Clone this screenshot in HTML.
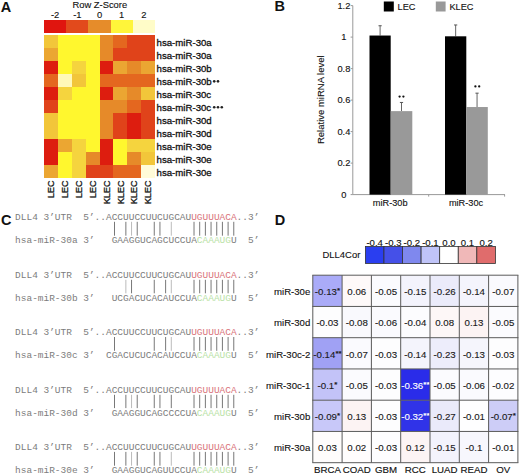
<!DOCTYPE html>
<html><head><meta charset="utf-8"><title>Figure</title>
<style>
html,body{margin:0;padding:0;background:#fff;}
body{width:520px;height:474px;overflow:hidden;}
svg{display:block;font-family:"Liberation Sans", sans-serif;}
svg{fill:#111;}
</style></head><body>
<svg width="520" height="474" viewBox="0 0 520 474">
<rect width="520" height="474" fill="#fff"/>
<text x="0.8" y="11.5" font-size="14.5" font-weight="bold">A</text>
<text x="99.8" y="8.2" font-size="9.4" text-anchor="middle" stroke="#111" stroke-width="0.12">Row Z-Score</text>
<rect x="44.00" y="20" width="22.20" height="12.5" fill="#e0150f" shape-rendering="crispEdges"/>
<text x="55.10" y="18" font-size="9.4" text-anchor="middle" stroke="#111" stroke-width="0.12">-2</text>
<rect x="66.20" y="20" width="22.20" height="12.5" fill="#e24a1c" shape-rendering="crispEdges"/>
<text x="77.30" y="18" font-size="9.4" text-anchor="middle" stroke="#111" stroke-width="0.12">-1</text>
<rect x="88.40" y="20" width="22.20" height="12.5" fill="#e68c2a" shape-rendering="crispEdges"/>
<text x="99.50" y="18" font-size="9.4" text-anchor="middle" stroke="#111" stroke-width="0.12">0</text>
<rect x="110.60" y="20" width="22.20" height="12.5" fill="#fff53a" shape-rendering="crispEdges"/>
<text x="121.70" y="18" font-size="9.4" text-anchor="middle" stroke="#111" stroke-width="0.12">1</text>
<rect x="132.80" y="20" width="22.20" height="12.5" fill="#fffcc8" shape-rendering="crispEdges"/>
<text x="143.90" y="18" font-size="9.4" text-anchor="middle" stroke="#111" stroke-width="0.12">2</text>
<rect x="44.00" y="35.40" width="13.88" height="12.96" fill="#f2c63a" shape-rendering="crispEdges"/>
<rect x="57.88" y="35.40" width="13.88" height="12.96" fill="#fff72e" shape-rendering="crispEdges"/>
<rect x="71.75" y="35.40" width="13.88" height="12.96" fill="#fff72e" shape-rendering="crispEdges"/>
<rect x="85.62" y="35.40" width="13.88" height="12.96" fill="#fff72e" shape-rendering="crispEdges"/>
<rect x="99.50" y="35.40" width="13.88" height="12.96" fill="#e68a29" shape-rendering="crispEdges"/>
<rect x="113.38" y="35.40" width="13.88" height="12.96" fill="#e4671f" shape-rendering="crispEdges"/>
<rect x="127.25" y="35.40" width="13.88" height="12.96" fill="#e0431a" shape-rendering="crispEdges"/>
<rect x="141.12" y="35.40" width="13.88" height="12.96" fill="#e0431a" shape-rendering="crispEdges"/>
<rect x="44.00" y="48.36" width="13.88" height="12.96" fill="#eba632" shape-rendering="crispEdges"/>
<rect x="57.88" y="48.36" width="13.88" height="12.96" fill="#fff72e" shape-rendering="crispEdges"/>
<rect x="71.75" y="48.36" width="13.88" height="12.96" fill="#fff72e" shape-rendering="crispEdges"/>
<rect x="85.62" y="48.36" width="13.88" height="12.96" fill="#fff72e" shape-rendering="crispEdges"/>
<rect x="99.50" y="48.36" width="13.88" height="12.96" fill="#e68a29" shape-rendering="crispEdges"/>
<rect x="113.38" y="48.36" width="13.88" height="12.96" fill="#e0431a" shape-rendering="crispEdges"/>
<rect x="127.25" y="48.36" width="13.88" height="12.96" fill="#e0431a" shape-rendering="crispEdges"/>
<rect x="141.12" y="48.36" width="13.88" height="12.96" fill="#e0431a" shape-rendering="crispEdges"/>
<rect x="44.00" y="61.33" width="13.88" height="12.96" fill="#dd1d0f" shape-rendering="crispEdges"/>
<rect x="57.88" y="61.33" width="13.88" height="12.96" fill="#fff72e" shape-rendering="crispEdges"/>
<rect x="71.75" y="61.33" width="13.88" height="12.96" fill="#f5d43e" shape-rendering="crispEdges"/>
<rect x="85.62" y="61.33" width="13.88" height="12.96" fill="#fff72e" shape-rendering="crispEdges"/>
<rect x="99.50" y="61.33" width="13.88" height="12.96" fill="#dd1d0f" shape-rendering="crispEdges"/>
<rect x="113.38" y="61.33" width="13.88" height="12.96" fill="#eba632" shape-rendering="crispEdges"/>
<rect x="127.25" y="61.33" width="13.88" height="12.96" fill="#e68a29" shape-rendering="crispEdges"/>
<rect x="141.12" y="61.33" width="13.88" height="12.96" fill="#eba632" shape-rendering="crispEdges"/>
<rect x="44.00" y="74.29" width="13.88" height="12.96" fill="#e4671f" shape-rendering="crispEdges"/>
<rect x="57.88" y="74.29" width="13.88" height="12.96" fill="#fff9b8" shape-rendering="crispEdges"/>
<rect x="71.75" y="74.29" width="13.88" height="12.96" fill="#f2c63a" shape-rendering="crispEdges"/>
<rect x="85.62" y="74.29" width="13.88" height="12.96" fill="#fff72e" shape-rendering="crispEdges"/>
<rect x="99.50" y="74.29" width="13.88" height="12.96" fill="#e4671f" shape-rendering="crispEdges"/>
<rect x="113.38" y="74.29" width="13.88" height="12.96" fill="#e4671f" shape-rendering="crispEdges"/>
<rect x="127.25" y="74.29" width="13.88" height="12.96" fill="#e4671f" shape-rendering="crispEdges"/>
<rect x="141.12" y="74.29" width="13.88" height="12.96" fill="#e4671f" shape-rendering="crispEdges"/>
<rect x="44.00" y="87.25" width="13.88" height="12.96" fill="#dd1d0f" shape-rendering="crispEdges"/>
<rect x="57.88" y="87.25" width="13.88" height="12.96" fill="#f5d43e" shape-rendering="crispEdges"/>
<rect x="71.75" y="87.25" width="13.88" height="12.96" fill="#fff72e" shape-rendering="crispEdges"/>
<rect x="85.62" y="87.25" width="13.88" height="12.96" fill="#fff72e" shape-rendering="crispEdges"/>
<rect x="99.50" y="87.25" width="13.88" height="12.96" fill="#dd1d0f" shape-rendering="crispEdges"/>
<rect x="113.38" y="87.25" width="13.88" height="12.96" fill="#eba632" shape-rendering="crispEdges"/>
<rect x="127.25" y="87.25" width="13.88" height="12.96" fill="#e68a29" shape-rendering="crispEdges"/>
<rect x="141.12" y="87.25" width="13.88" height="12.96" fill="#f2c63a" shape-rendering="crispEdges"/>
<rect x="44.00" y="100.22" width="13.88" height="12.96" fill="#e0431a" shape-rendering="crispEdges"/>
<rect x="57.88" y="100.22" width="13.88" height="12.96" fill="#fff72e" shape-rendering="crispEdges"/>
<rect x="71.75" y="100.22" width="13.88" height="12.96" fill="#fff72e" shape-rendering="crispEdges"/>
<rect x="85.62" y="100.22" width="13.88" height="12.96" fill="#fff72e" shape-rendering="crispEdges"/>
<rect x="99.50" y="100.22" width="13.88" height="12.96" fill="#e68a29" shape-rendering="crispEdges"/>
<rect x="113.38" y="100.22" width="13.88" height="12.96" fill="#e68a29" shape-rendering="crispEdges"/>
<rect x="127.25" y="100.22" width="13.88" height="12.96" fill="#e4671f" shape-rendering="crispEdges"/>
<rect x="141.12" y="100.22" width="13.88" height="12.96" fill="#e0431a" shape-rendering="crispEdges"/>
<rect x="44.00" y="113.18" width="13.88" height="12.96" fill="#f2c63a" shape-rendering="crispEdges"/>
<rect x="57.88" y="113.18" width="13.88" height="12.96" fill="#fff72e" shape-rendering="crispEdges"/>
<rect x="71.75" y="113.18" width="13.88" height="12.96" fill="#fff72e" shape-rendering="crispEdges"/>
<rect x="85.62" y="113.18" width="13.88" height="12.96" fill="#fff72e" shape-rendering="crispEdges"/>
<rect x="99.50" y="113.18" width="13.88" height="12.96" fill="#e68a29" shape-rendering="crispEdges"/>
<rect x="113.38" y="113.18" width="13.88" height="12.96" fill="#e0431a" shape-rendering="crispEdges"/>
<rect x="127.25" y="113.18" width="13.88" height="12.96" fill="#dd1d0f" shape-rendering="crispEdges"/>
<rect x="141.12" y="113.18" width="13.88" height="12.96" fill="#e0431a" shape-rendering="crispEdges"/>
<rect x="44.00" y="126.15" width="13.88" height="12.96" fill="#f2c63a" shape-rendering="crispEdges"/>
<rect x="57.88" y="126.15" width="13.88" height="12.96" fill="#fff72e" shape-rendering="crispEdges"/>
<rect x="71.75" y="126.15" width="13.88" height="12.96" fill="#fff72e" shape-rendering="crispEdges"/>
<rect x="85.62" y="126.15" width="13.88" height="12.96" fill="#fff72e" shape-rendering="crispEdges"/>
<rect x="99.50" y="126.15" width="13.88" height="12.96" fill="#e68a29" shape-rendering="crispEdges"/>
<rect x="113.38" y="126.15" width="13.88" height="12.96" fill="#e0431a" shape-rendering="crispEdges"/>
<rect x="127.25" y="126.15" width="13.88" height="12.96" fill="#dd1d0f" shape-rendering="crispEdges"/>
<rect x="141.12" y="126.15" width="13.88" height="12.96" fill="#e0431a" shape-rendering="crispEdges"/>
<rect x="44.00" y="139.11" width="13.88" height="12.96" fill="#dd1d0f" shape-rendering="crispEdges"/>
<rect x="57.88" y="139.11" width="13.88" height="12.96" fill="#eba632" shape-rendering="crispEdges"/>
<rect x="71.75" y="139.11" width="13.88" height="12.96" fill="#f5d43e" shape-rendering="crispEdges"/>
<rect x="85.62" y="139.11" width="13.88" height="12.96" fill="#fff72e" shape-rendering="crispEdges"/>
<rect x="99.50" y="139.11" width="13.88" height="12.96" fill="#dd1d0f" shape-rendering="crispEdges"/>
<rect x="113.38" y="139.11" width="13.88" height="12.96" fill="#fff72e" shape-rendering="crispEdges"/>
<rect x="127.25" y="139.11" width="13.88" height="12.96" fill="#f5d43e" shape-rendering="crispEdges"/>
<rect x="141.12" y="139.11" width="13.88" height="12.96" fill="#f5d43e" shape-rendering="crispEdges"/>
<rect x="44.00" y="152.07" width="13.88" height="12.96" fill="#dd1d0f" shape-rendering="crispEdges"/>
<rect x="57.88" y="152.07" width="13.88" height="12.96" fill="#fff72e" shape-rendering="crispEdges"/>
<rect x="71.75" y="152.07" width="13.88" height="12.96" fill="#f5d43e" shape-rendering="crispEdges"/>
<rect x="85.62" y="152.07" width="13.88" height="12.96" fill="#e68a29" shape-rendering="crispEdges"/>
<rect x="99.50" y="152.07" width="13.88" height="12.96" fill="#dd1d0f" shape-rendering="crispEdges"/>
<rect x="113.38" y="152.07" width="13.88" height="12.96" fill="#fff72e" shape-rendering="crispEdges"/>
<rect x="127.25" y="152.07" width="13.88" height="12.96" fill="#e68a29" shape-rendering="crispEdges"/>
<rect x="141.12" y="152.07" width="13.88" height="12.96" fill="#f2c63a" shape-rendering="crispEdges"/>
<rect x="44.00" y="165.04" width="13.88" height="12.96" fill="#eba632" shape-rendering="crispEdges"/>
<rect x="57.88" y="165.04" width="13.88" height="12.96" fill="#fff72e" shape-rendering="crispEdges"/>
<rect x="71.75" y="165.04" width="13.88" height="12.96" fill="#f5d43e" shape-rendering="crispEdges"/>
<rect x="85.62" y="165.04" width="13.88" height="12.96" fill="#e0431a" shape-rendering="crispEdges"/>
<rect x="99.50" y="165.04" width="13.88" height="12.96" fill="#e0431a" shape-rendering="crispEdges"/>
<rect x="113.38" y="165.04" width="13.88" height="12.96" fill="#e4671f" shape-rendering="crispEdges"/>
<rect x="127.25" y="165.04" width="13.88" height="12.96" fill="#e4671f" shape-rendering="crispEdges"/>
<rect x="141.12" y="165.04" width="13.88" height="12.96" fill="#fffbd8" shape-rendering="crispEdges"/>
<text stroke="#111" stroke-width="0.3" x="156.6" y="45.88" font-size="9.65">hsa-miR-30a</text>
<text stroke="#111" stroke-width="0.3" x="156.6" y="58.85" font-size="9.65">hsa-miR-30a</text>
<text stroke="#111" stroke-width="0.3" x="156.6" y="71.81" font-size="9.65">hsa-miR-30b</text>
<text stroke="#111" stroke-width="0.3" x="156.6" y="84.77" font-size="9.65">hsa-miR-30b</text>
<circle cx="214.20" cy="81.37" r="1.3" fill="#222"/>
<circle cx="218.00" cy="81.37" r="1.3" fill="#222"/>
<text stroke="#111" stroke-width="0.3" x="156.6" y="97.74" font-size="9.65">hsa-miR-30c</text>
<text stroke="#111" stroke-width="0.3" x="156.6" y="110.70" font-size="9.65">hsa-miR-30c</text>
<circle cx="214.20" cy="107.30" r="1.3" fill="#222"/>
<circle cx="218.00" cy="107.30" r="1.3" fill="#222"/>
<circle cx="221.80" cy="107.30" r="1.3" fill="#222"/>
<text stroke="#111" stroke-width="0.3" x="156.6" y="123.66" font-size="9.65">hsa-miR-30d</text>
<text stroke="#111" stroke-width="0.3" x="156.6" y="136.63" font-size="9.65">hsa-miR-30d</text>
<text stroke="#111" stroke-width="0.3" x="156.6" y="149.59" font-size="9.65">hsa-miR-30e</text>
<text stroke="#111" stroke-width="0.3" x="156.6" y="162.55" font-size="9.65">hsa-miR-30e</text>
<text stroke="#111" stroke-width="0.3" x="156.6" y="175.52" font-size="9.65">hsa-miR-30e</text>
<text stroke="#111" stroke-width="0.3" transform="translate(54.24,180.5) rotate(-90)" font-size="9" text-anchor="end">LEC</text>
<text stroke="#111" stroke-width="0.3" transform="translate(68.11,180.5) rotate(-90)" font-size="9" text-anchor="end">LEC</text>
<text stroke="#111" stroke-width="0.3" transform="translate(81.99,180.5) rotate(-90)" font-size="9" text-anchor="end">LEC</text>
<text stroke="#111" stroke-width="0.3" transform="translate(95.86,180.5) rotate(-90)" font-size="9" text-anchor="end">LEC</text>
<text stroke="#111" stroke-width="0.3" transform="translate(109.74,180.5) rotate(-90)" font-size="9" text-anchor="end">KLEC</text>
<text stroke="#111" stroke-width="0.3" transform="translate(123.61,180.5) rotate(-90)" font-size="9" text-anchor="end">KLEC</text>
<text stroke="#111" stroke-width="0.3" transform="translate(137.49,180.5) rotate(-90)" font-size="9" text-anchor="end">KLEC</text>
<text stroke="#111" stroke-width="0.3" transform="translate(151.36,180.5) rotate(-90)" font-size="9" text-anchor="end">KLEC</text>
<text x="274.6" y="11.2" font-size="14.5" font-weight="bold">B</text>
<line x1="352.8" y1="5.60" x2="352.8" y2="194.6" stroke="#999" stroke-width="1"/>
<line x1="352.8" y1="194.6" x2="505" y2="194.6" stroke="#999" stroke-width="1"/>
<line x1="350.6" y1="194.60" x2="352.8" y2="194.60" stroke="#999" stroke-width="1"/>
<text stroke="#111" stroke-width="0.12" x="343.9" y="197.90" font-size="9.3" text-anchor="middle">0</text>
<line x1="350.6" y1="163.10" x2="352.8" y2="163.10" stroke="#999" stroke-width="1"/>
<text stroke="#111" stroke-width="0.12" x="343.9" y="166.40" font-size="9.3" text-anchor="middle">0.2</text>
<line x1="350.6" y1="131.60" x2="352.8" y2="131.60" stroke="#999" stroke-width="1"/>
<text stroke="#111" stroke-width="0.12" x="343.9" y="134.90" font-size="9.3" text-anchor="middle">0.4</text>
<line x1="350.6" y1="100.10" x2="352.8" y2="100.10" stroke="#999" stroke-width="1"/>
<text stroke="#111" stroke-width="0.12" x="343.9" y="103.40" font-size="9.3" text-anchor="middle">0.6</text>
<line x1="350.6" y1="68.60" x2="352.8" y2="68.60" stroke="#999" stroke-width="1"/>
<text stroke="#111" stroke-width="0.12" x="343.9" y="71.90" font-size="9.3" text-anchor="middle">0.8</text>
<line x1="350.6" y1="37.10" x2="352.8" y2="37.10" stroke="#999" stroke-width="1"/>
<text stroke="#111" stroke-width="0.12" x="343.9" y="40.40" font-size="9.3" text-anchor="middle">1</text>
<line x1="350.6" y1="5.60" x2="352.8" y2="5.60" stroke="#999" stroke-width="1"/>
<text stroke="#111" stroke-width="0.12" x="343.9" y="8.90" font-size="9.3" text-anchor="middle">1.2</text>
<line x1="428.7" y1="194.6" x2="428.7" y2="196.6" stroke="#999" stroke-width="1"/>
<line x1="504.6" y1="194.6" x2="504.6" y2="196.6" stroke="#999" stroke-width="1"/>
<text stroke="#111" stroke-width="0.12" transform="translate(324.4,99.7) rotate(-90)" font-size="9.5" text-anchor="middle">Relative miRNA level</text>
<line x1="380.10" y1="25.76" x2="380.10" y2="35.53" stroke="#555" stroke-width="0.9"/>
<line x1="378.50" y1="25.76" x2="381.70" y2="25.76" stroke="#555" stroke-width="1"/>
<rect x="369.5" y="35.53" width="21.20" height="159.07" fill="#000"/>
<line x1="401.50" y1="102.46" x2="401.50" y2="111.12" stroke="#555" stroke-width="0.9"/>
<line x1="399.90" y1="102.46" x2="403.10" y2="102.46" stroke="#555" stroke-width="1"/>
<rect x="390.7" y="111.12" width="21.60" height="83.48" fill="#999"/>
<line x1="455.65" y1="24.97" x2="455.65" y2="36.31" stroke="#555" stroke-width="0.9"/>
<line x1="454.05" y1="24.97" x2="457.25" y2="24.97" stroke="#555" stroke-width="1"/>
<rect x="445.0" y="36.31" width="21.30" height="158.29" fill="#000"/>
<line x1="477.05" y1="93.17" x2="477.05" y2="107.03" stroke="#555" stroke-width="0.9"/>
<line x1="475.45" y1="93.17" x2="478.65" y2="93.17" stroke="#555" stroke-width="1"/>
<rect x="466.3" y="107.03" width="21.50" height="87.57" fill="#999"/>
<circle cx="399.60" cy="96.6" r="1.15" fill="#111"/>
<circle cx="403.40" cy="96.6" r="1.15" fill="#111"/>
<circle cx="475.40" cy="86.4" r="1.15" fill="#111"/>
<circle cx="479.20" cy="86.4" r="1.15" fill="#111"/>
<rect x="383.8" y="1.5" width="10" height="10" fill="#000"/>
<text stroke="#111" stroke-width="0.12" x="397.6" y="10.3" font-size="9.2">LEC</text>
<rect x="435.8" y="1.5" width="9.8" height="10" fill="#999"/>
<text stroke="#111" stroke-width="0.12" x="449.4" y="10.3" font-size="9.2">KLEC</text>
<text stroke="#111" stroke-width="0.12" x="390.2" y="206.3" font-size="9.2" text-anchor="middle">miR-30b</text>
<text stroke="#111" stroke-width="0.12" x="466" y="206.3" font-size="9.2" text-anchor="middle">miR-30c</text>
<text x="1.0" y="224.6" font-size="14.5" font-weight="bold">C</text>
<text x="15.1" y="219.80" font-family='"Liberation Mono", monospace' font-size="9.465" textLength="244.24"><tspan fill="#7c7c7c">DLL4&#160;3’UTR&#160;&#160;5’..ACCUUCCUUCUGCAU</tspan><tspan fill="#d9737a">UGUUUACA</tspan><tspan fill="#7c7c7c">..3’</tspan></text>
<text x="15.1" y="243.20" font-family='"Liberation Mono", monospace' font-size="9.465" textLength="244.24"><tspan fill="#7c7c7c">hsa-miR-30a&#160;3’&#160;&#160;&#160;GAAGGUCAGCUCCUA</tspan><tspan fill="#b9e2a6">CAAAUG</tspan><tspan fill="#7c7c7c">U&#160;&#160;5’</tspan></text>
<line x1="114.50" y1="221.80" x2="114.50" y2="235.70" stroke="#555" stroke-width="0.8"/>
<line x1="125.86" y1="221.80" x2="125.86" y2="235.70" stroke="#555" stroke-width="0.8"/>
<line x1="131.54" y1="221.80" x2="131.54" y2="235.70" stroke="#aaa" stroke-width="0.8"/>
<line x1="137.22" y1="221.80" x2="137.22" y2="235.70" stroke="#555" stroke-width="0.8"/>
<line x1="154.26" y1="221.80" x2="154.26" y2="235.70" stroke="#555" stroke-width="0.8"/>
<line x1="159.94" y1="221.80" x2="159.94" y2="235.70" stroke="#555" stroke-width="0.8"/>
<line x1="171.30" y1="221.80" x2="171.30" y2="235.70" stroke="#aaa" stroke-width="0.8"/>
<line x1="194.02" y1="221.80" x2="194.02" y2="235.70" stroke="#555" stroke-width="0.8"/>
<line x1="199.70" y1="221.80" x2="199.70" y2="235.70" stroke="#555" stroke-width="0.8"/>
<line x1="205.38" y1="221.80" x2="205.38" y2="235.70" stroke="#555" stroke-width="0.8"/>
<line x1="211.06" y1="221.80" x2="211.06" y2="235.70" stroke="#555" stroke-width="0.8"/>
<line x1="216.74" y1="221.80" x2="216.74" y2="235.70" stroke="#555" stroke-width="0.8"/>
<line x1="222.42" y1="221.80" x2="222.42" y2="235.70" stroke="#555" stroke-width="0.8"/>
<line x1="228.10" y1="221.80" x2="228.10" y2="235.70" stroke="#555" stroke-width="0.8"/>
<line x1="233.78" y1="221.80" x2="233.78" y2="235.70" stroke="#555" stroke-width="0.8"/>
<text x="15.1" y="277.80" font-family='"Liberation Mono", monospace' font-size="9.465" textLength="244.24"><tspan fill="#7c7c7c">DLL4&#160;3’UTR&#160;&#160;5’..ACCUUCCUUCUGCAU</tspan><tspan fill="#d9737a">UGUUUACA</tspan><tspan fill="#7c7c7c">..3’</tspan></text>
<text x="15.1" y="300.80" font-family='"Liberation Mono", monospace' font-size="9.465" textLength="244.24"><tspan fill="#7c7c7c">hsa-miR-30b&#160;3’&#160;&#160;&#160;UCGACUCACAUCCUA</tspan><tspan fill="#b9e2a6">CAAAUG</tspan><tspan fill="#7c7c7c">U&#160;&#160;5’</tspan></text>
<line x1="125.86" y1="279.80" x2="125.86" y2="293.30" stroke="#aaa" stroke-width="0.8"/>
<line x1="131.54" y1="279.80" x2="131.54" y2="293.30" stroke="#555" stroke-width="0.8"/>
<line x1="154.26" y1="279.80" x2="154.26" y2="293.30" stroke="#555" stroke-width="0.8"/>
<line x1="165.62" y1="279.80" x2="165.62" y2="293.30" stroke="#555" stroke-width="0.8"/>
<line x1="171.30" y1="279.80" x2="171.30" y2="293.30" stroke="#aaa" stroke-width="0.8"/>
<line x1="194.02" y1="279.80" x2="194.02" y2="293.30" stroke="#555" stroke-width="0.8"/>
<line x1="199.70" y1="279.80" x2="199.70" y2="293.30" stroke="#555" stroke-width="0.8"/>
<line x1="205.38" y1="279.80" x2="205.38" y2="293.30" stroke="#555" stroke-width="0.8"/>
<line x1="211.06" y1="279.80" x2="211.06" y2="293.30" stroke="#555" stroke-width="0.8"/>
<line x1="216.74" y1="279.80" x2="216.74" y2="293.30" stroke="#555" stroke-width="0.8"/>
<line x1="222.42" y1="279.80" x2="222.42" y2="293.30" stroke="#555" stroke-width="0.8"/>
<line x1="228.10" y1="279.80" x2="228.10" y2="293.30" stroke="#555" stroke-width="0.8"/>
<line x1="233.78" y1="279.80" x2="233.78" y2="293.30" stroke="#555" stroke-width="0.8"/>
<text x="15.1" y="335.00" font-family='"Liberation Mono", monospace' font-size="9.465" textLength="244.24"><tspan fill="#7c7c7c">DLL4&#160;3’UTR&#160;&#160;5’..ACCUUCCUUCUGCAU</tspan><tspan fill="#d9737a">UGUUUACA</tspan><tspan fill="#7c7c7c">..3’</tspan></text>
<text x="15.1" y="358.30" font-family='"Liberation Mono", monospace' font-size="9.465" textLength="244.24"><tspan fill="#7c7c7c">hsa-miR-30c&#160;3’&#160;&#160;CGACUCUCACAUCCUA</tspan><tspan fill="#b9e2a6">CAAAUG</tspan><tspan fill="#7c7c7c">U&#160;&#160;5’</tspan></text>
<line x1="114.50" y1="337.00" x2="114.50" y2="350.80" stroke="#555" stroke-width="0.8"/>
<line x1="154.26" y1="337.00" x2="154.26" y2="350.80" stroke="#555" stroke-width="0.8"/>
<line x1="165.62" y1="337.00" x2="165.62" y2="350.80" stroke="#555" stroke-width="0.8"/>
<line x1="171.30" y1="337.00" x2="171.30" y2="350.80" stroke="#aaa" stroke-width="0.8"/>
<line x1="194.02" y1="337.00" x2="194.02" y2="350.80" stroke="#555" stroke-width="0.8"/>
<line x1="199.70" y1="337.00" x2="199.70" y2="350.80" stroke="#555" stroke-width="0.8"/>
<line x1="205.38" y1="337.00" x2="205.38" y2="350.80" stroke="#555" stroke-width="0.8"/>
<line x1="211.06" y1="337.00" x2="211.06" y2="350.80" stroke="#555" stroke-width="0.8"/>
<line x1="216.74" y1="337.00" x2="216.74" y2="350.80" stroke="#555" stroke-width="0.8"/>
<line x1="222.42" y1="337.00" x2="222.42" y2="350.80" stroke="#555" stroke-width="0.8"/>
<line x1="228.10" y1="337.00" x2="228.10" y2="350.80" stroke="#555" stroke-width="0.8"/>
<line x1="233.78" y1="337.00" x2="233.78" y2="350.80" stroke="#555" stroke-width="0.8"/>
<text x="15.1" y="392.80" font-family='"Liberation Mono", monospace' font-size="9.465" textLength="244.24"><tspan fill="#7c7c7c">DLL4&#160;3’UTR&#160;&#160;5’..ACCUUCCUUCUGCAU</tspan><tspan fill="#d9737a">UGUUUACA</tspan><tspan fill="#7c7c7c">..3’</tspan></text>
<text x="15.1" y="415.60" font-family='"Liberation Mono", monospace' font-size="9.465" textLength="244.24"><tspan fill="#7c7c7c">hsa-miR-30d&#160;3’&#160;&#160;&#160;GAAGGUCAGCCCCUA</tspan><tspan fill="#b9e2a6">CAAAUG</tspan><tspan fill="#7c7c7c">U&#160;&#160;5’</tspan></text>
<line x1="114.50" y1="394.80" x2="114.50" y2="408.10" stroke="#555" stroke-width="0.8"/>
<line x1="125.86" y1="394.80" x2="125.86" y2="408.10" stroke="#555" stroke-width="0.8"/>
<line x1="131.54" y1="394.80" x2="131.54" y2="408.10" stroke="#aaa" stroke-width="0.8"/>
<line x1="137.22" y1="394.80" x2="137.22" y2="408.10" stroke="#555" stroke-width="0.8"/>
<line x1="154.26" y1="394.80" x2="154.26" y2="408.10" stroke="#555" stroke-width="0.8"/>
<line x1="159.94" y1="394.80" x2="159.94" y2="408.10" stroke="#555" stroke-width="0.8"/>
<line x1="171.30" y1="394.80" x2="171.30" y2="408.10" stroke="#555" stroke-width="0.8"/>
<line x1="194.02" y1="394.80" x2="194.02" y2="408.10" stroke="#555" stroke-width="0.8"/>
<line x1="199.70" y1="394.80" x2="199.70" y2="408.10" stroke="#555" stroke-width="0.8"/>
<line x1="205.38" y1="394.80" x2="205.38" y2="408.10" stroke="#555" stroke-width="0.8"/>
<line x1="211.06" y1="394.80" x2="211.06" y2="408.10" stroke="#555" stroke-width="0.8"/>
<line x1="216.74" y1="394.80" x2="216.74" y2="408.10" stroke="#555" stroke-width="0.8"/>
<line x1="222.42" y1="394.80" x2="222.42" y2="408.10" stroke="#555" stroke-width="0.8"/>
<line x1="228.10" y1="394.80" x2="228.10" y2="408.10" stroke="#555" stroke-width="0.8"/>
<line x1="233.78" y1="394.80" x2="233.78" y2="408.10" stroke="#555" stroke-width="0.8"/>
<text x="15.1" y="449.90" font-family='"Liberation Mono", monospace' font-size="9.465" textLength="244.24"><tspan fill="#7c7c7c">DLL4&#160;3’UTR&#160;&#160;5’..ACCUUCCUUCUGCAU</tspan><tspan fill="#d9737a">UGUUUACA</tspan><tspan fill="#7c7c7c">..3’</tspan></text>
<text x="15.1" y="473.20" font-family='"Liberation Mono", monospace' font-size="9.465" textLength="244.24"><tspan fill="#7c7c7c">hsa-miR-30e&#160;3’&#160;&#160;&#160;GAAGGUCAGUUCCUA</tspan><tspan fill="#b9e2a6">CAAAUG</tspan><tspan fill="#7c7c7c">U&#160;&#160;5’</tspan></text>
<line x1="114.50" y1="451.90" x2="114.50" y2="465.70" stroke="#555" stroke-width="0.8"/>
<line x1="125.86" y1="451.90" x2="125.86" y2="465.70" stroke="#555" stroke-width="0.8"/>
<line x1="131.54" y1="451.90" x2="131.54" y2="465.70" stroke="#aaa" stroke-width="0.8"/>
<line x1="137.22" y1="451.90" x2="137.22" y2="465.70" stroke="#555" stroke-width="0.8"/>
<line x1="154.26" y1="451.90" x2="154.26" y2="465.70" stroke="#555" stroke-width="0.8"/>
<line x1="159.94" y1="451.90" x2="159.94" y2="465.70" stroke="#555" stroke-width="0.8"/>
<line x1="171.30" y1="451.90" x2="171.30" y2="465.70" stroke="#aaa" stroke-width="0.8"/>
<line x1="194.02" y1="451.90" x2="194.02" y2="465.70" stroke="#555" stroke-width="0.8"/>
<line x1="199.70" y1="451.90" x2="199.70" y2="465.70" stroke="#555" stroke-width="0.8"/>
<line x1="205.38" y1="451.90" x2="205.38" y2="465.70" stroke="#555" stroke-width="0.8"/>
<line x1="211.06" y1="451.90" x2="211.06" y2="465.70" stroke="#555" stroke-width="0.8"/>
<line x1="216.74" y1="451.90" x2="216.74" y2="465.70" stroke="#555" stroke-width="0.8"/>
<line x1="222.42" y1="451.90" x2="222.42" y2="465.70" stroke="#555" stroke-width="0.8"/>
<line x1="228.10" y1="451.90" x2="228.10" y2="465.70" stroke="#555" stroke-width="0.8"/>
<line x1="233.78" y1="451.90" x2="233.78" y2="465.70" stroke="#555" stroke-width="0.8"/>
<text x="274.8" y="225.2" font-size="14.5" font-weight="bold">D</text>
<text stroke="#111" stroke-width="0.12" x="322.5" y="257.6" font-size="9.45">DLL4Cor</text>
<rect x="365.40" y="246.4" width="18.57" height="17.1" fill="#2a3ef0" stroke="#333" stroke-width="0.8"/>
<text stroke="#111" stroke-width="0.12" x="374.69" y="245.5" font-size="9.6" text-anchor="middle">-0.4</text>
<rect x="383.97" y="246.4" width="18.57" height="17.1" fill="#4550e8" stroke="#333" stroke-width="0.8"/>
<text stroke="#111" stroke-width="0.12" x="393.26" y="245.5" font-size="9.6" text-anchor="middle">-0.3</text>
<rect x="402.54" y="246.4" width="18.57" height="17.1" fill="#7f88ee" stroke="#333" stroke-width="0.8"/>
<text stroke="#111" stroke-width="0.12" x="411.83" y="245.5" font-size="9.6" text-anchor="middle">-0.2</text>
<rect x="421.11" y="246.4" width="18.57" height="17.1" fill="#c0c4f8" stroke="#333" stroke-width="0.8"/>
<text stroke="#111" stroke-width="0.12" x="430.40" y="245.5" font-size="9.6" text-anchor="middle">-0.1</text>
<rect x="439.69" y="246.4" width="18.57" height="17.1" fill="#ffffff" stroke="#333" stroke-width="0.8"/>
<text stroke="#111" stroke-width="0.12" x="448.97" y="245.5" font-size="9.6" text-anchor="middle">0.0</text>
<rect x="458.26" y="246.4" width="18.57" height="17.1" fill="#f0b8b8" stroke="#333" stroke-width="0.8"/>
<text stroke="#111" stroke-width="0.12" x="467.54" y="245.5" font-size="9.6" text-anchor="middle">0.1</text>
<rect x="476.83" y="246.4" width="18.57" height="17.1" fill="#e06c6c" stroke="#333" stroke-width="0.8"/>
<text stroke="#111" stroke-width="0.12" x="486.11" y="245.5" font-size="9.6" text-anchor="middle">0.2</text>
<rect x="312.80" y="275.20" width="29.30" height="31.25" fill="#aaabf8"/>
<rect x="342.10" y="275.20" width="29.30" height="31.25" fill="#fef9f9"/>
<rect x="371.40" y="275.20" width="29.30" height="31.25" fill="#fbfbfe"/>
<rect x="400.70" y="275.20" width="29.30" height="31.25" fill="#f3f3fc"/>
<rect x="430.00" y="275.20" width="29.30" height="31.25" fill="#ebebfa"/>
<rect x="459.30" y="275.20" width="29.30" height="31.25" fill="#f4f4fc"/>
<rect x="488.60" y="275.20" width="29.30" height="31.25" fill="#fafafe"/>
<rect x="312.80" y="306.45" width="29.30" height="31.25" fill="#fdfdfe"/>
<rect x="342.10" y="306.45" width="29.30" height="31.25" fill="#f9f9fd"/>
<rect x="371.40" y="306.45" width="29.30" height="31.25" fill="#fafafe"/>
<rect x="400.70" y="306.45" width="29.30" height="31.25" fill="#fcfcfe"/>
<rect x="430.00" y="306.45" width="29.30" height="31.25" fill="#fdf7f7"/>
<rect x="459.30" y="306.45" width="29.30" height="31.25" fill="#fcf3f3"/>
<rect x="488.60" y="306.45" width="29.30" height="31.25" fill="#fbfbfe"/>
<rect x="312.80" y="337.70" width="29.30" height="31.25" fill="#a0a1f4"/>
<rect x="342.10" y="337.70" width="29.30" height="31.25" fill="#fafafe"/>
<rect x="371.40" y="337.70" width="29.30" height="31.25" fill="#fdfdfe"/>
<rect x="400.70" y="337.70" width="29.30" height="31.25" fill="#f4f4fc"/>
<rect x="430.00" y="337.70" width="29.30" height="31.25" fill="#ededfb"/>
<rect x="459.30" y="337.70" width="29.30" height="31.25" fill="#f5f5fc"/>
<rect x="488.60" y="337.70" width="29.30" height="31.25" fill="#fdfdfe"/>
<rect x="312.80" y="368.95" width="29.30" height="31.25" fill="#c3c3f8"/>
<rect x="342.10" y="368.95" width="29.30" height="31.25" fill="#fbfbfe"/>
<rect x="371.40" y="368.95" width="29.30" height="31.25" fill="#fdfdfe"/>
<rect x="400.70" y="368.95" width="29.30" height="31.25" fill="#2a2ce9"/>
<rect x="430.00" y="368.95" width="29.30" height="31.25" fill="#fbfbfe"/>
<rect x="459.30" y="368.95" width="29.30" height="31.25" fill="#fafafe"/>
<rect x="488.60" y="368.95" width="29.30" height="31.25" fill="#fdfdff"/>
<rect x="312.80" y="400.20" width="29.30" height="31.25" fill="#c8c8f9"/>
<rect x="342.10" y="400.20" width="29.30" height="31.25" fill="#fcf3f3"/>
<rect x="371.40" y="400.20" width="29.30" height="31.25" fill="#fdfdfe"/>
<rect x="400.70" y="400.20" width="29.30" height="31.25" fill="#3033e8"/>
<rect x="430.00" y="400.20" width="29.30" height="31.25" fill="#eaeafa"/>
<rect x="459.30" y="400.20" width="29.30" height="31.25" fill="#fefeff"/>
<rect x="488.60" y="400.20" width="29.30" height="31.25" fill="#cdcdf7"/>
<rect x="312.80" y="431.45" width="29.30" height="31.25" fill="#fefcfc"/>
<rect x="342.10" y="431.45" width="29.30" height="31.25" fill="#fffdfd"/>
<rect x="371.40" y="431.45" width="29.30" height="31.25" fill="#fdfdfe"/>
<rect x="400.70" y="431.45" width="29.30" height="31.25" fill="#fcf4f4"/>
<rect x="430.00" y="431.45" width="29.30" height="31.25" fill="#f3f3fc"/>
<rect x="459.30" y="431.45" width="29.30" height="31.25" fill="#f7f7fd"/>
<rect x="488.60" y="431.45" width="29.30" height="31.25" fill="#fefeff"/>
<text x="327.45" y="295.22" font-size="9.7" text-anchor="middle" fill="#1a1a1a" stroke="#1a1a1a" stroke-width="0.12" class="v">-0.13<tspan font-size="8" font-weight="bold" dy="-2.0">*</tspan></text>
<text x="356.75" y="295.22" font-size="9.7" text-anchor="middle" fill="#1a1a1a" stroke="#1a1a1a" stroke-width="0.12" class="v">0.06</text>
<text x="386.05" y="295.22" font-size="9.7" text-anchor="middle" fill="#1a1a1a" stroke="#1a1a1a" stroke-width="0.12" class="v">-0.05</text>
<text x="415.35" y="295.22" font-size="9.7" text-anchor="middle" fill="#1a1a1a" stroke="#1a1a1a" stroke-width="0.12" class="v">-0.15</text>
<text x="444.65" y="295.22" font-size="9.7" text-anchor="middle" fill="#1a1a1a" stroke="#1a1a1a" stroke-width="0.12" class="v">-0.26</text>
<text x="473.95" y="295.22" font-size="9.7" text-anchor="middle" fill="#1a1a1a" stroke="#1a1a1a" stroke-width="0.12" class="v">-0.14</text>
<text x="503.25" y="295.22" font-size="9.7" text-anchor="middle" fill="#1a1a1a" stroke="#1a1a1a" stroke-width="0.12" class="v">-0.07</text>
<text x="327.45" y="326.47" font-size="9.7" text-anchor="middle" fill="#1a1a1a" stroke="#1a1a1a" stroke-width="0.12" class="v">-0.03</text>
<text x="356.75" y="326.47" font-size="9.7" text-anchor="middle" fill="#1a1a1a" stroke="#1a1a1a" stroke-width="0.12" class="v">-0.08</text>
<text x="386.05" y="326.47" font-size="9.7" text-anchor="middle" fill="#1a1a1a" stroke="#1a1a1a" stroke-width="0.12" class="v">-0.06</text>
<text x="415.35" y="326.47" font-size="9.7" text-anchor="middle" fill="#1a1a1a" stroke="#1a1a1a" stroke-width="0.12" class="v">-0.04</text>
<text x="444.65" y="326.47" font-size="9.7" text-anchor="middle" fill="#1a1a1a" stroke="#1a1a1a" stroke-width="0.12" class="v">0.08</text>
<text x="473.95" y="326.47" font-size="9.7" text-anchor="middle" fill="#1a1a1a" stroke="#1a1a1a" stroke-width="0.12" class="v">0.13</text>
<text x="503.25" y="326.47" font-size="9.7" text-anchor="middle" fill="#1a1a1a" stroke="#1a1a1a" stroke-width="0.12" class="v">-0.05</text>
<text x="327.45" y="357.72" font-size="9.7" text-anchor="middle" fill="#1a1a1a" stroke="#1a1a1a" stroke-width="0.12" class="v">-0.14<tspan font-size="8" font-weight="bold" dy="-2.0">**</tspan></text>
<text x="356.75" y="357.72" font-size="9.7" text-anchor="middle" fill="#1a1a1a" stroke="#1a1a1a" stroke-width="0.12" class="v">-0.07</text>
<text x="386.05" y="357.72" font-size="9.7" text-anchor="middle" fill="#1a1a1a" stroke="#1a1a1a" stroke-width="0.12" class="v">-0.03</text>
<text x="415.35" y="357.72" font-size="9.7" text-anchor="middle" fill="#1a1a1a" stroke="#1a1a1a" stroke-width="0.12" class="v">-0.14</text>
<text x="444.65" y="357.72" font-size="9.7" text-anchor="middle" fill="#1a1a1a" stroke="#1a1a1a" stroke-width="0.12" class="v">-0.23</text>
<text x="473.95" y="357.72" font-size="9.7" text-anchor="middle" fill="#1a1a1a" stroke="#1a1a1a" stroke-width="0.12" class="v">-0.13</text>
<text x="503.25" y="357.72" font-size="9.7" text-anchor="middle" fill="#1a1a1a" stroke="#1a1a1a" stroke-width="0.12" class="v">-0.03</text>
<text x="327.45" y="388.97" font-size="9.7" text-anchor="middle" fill="#1a1a1a" stroke="#1a1a1a" stroke-width="0.12" class="v">-0.1<tspan font-size="8" font-weight="bold" dy="-2.0">*</tspan></text>
<text x="356.75" y="388.97" font-size="9.7" text-anchor="middle" fill="#1a1a1a" stroke="#1a1a1a" stroke-width="0.12" class="v">-0.05</text>
<text x="386.05" y="388.97" font-size="9.7" text-anchor="middle" fill="#1a1a1a" stroke="#1a1a1a" stroke-width="0.12" class="v">-0.03</text>
<text x="415.35" y="388.97" font-size="9.7" text-anchor="middle" fill="#fff" stroke="#fff" stroke-width="0.12" class="v">-0.36<tspan font-size="8" font-weight="bold" dy="-2.0">**</tspan></text>
<text x="444.65" y="388.97" font-size="9.7" text-anchor="middle" fill="#1a1a1a" stroke="#1a1a1a" stroke-width="0.12" class="v">-0.05</text>
<text x="473.95" y="388.97" font-size="9.7" text-anchor="middle" fill="#1a1a1a" stroke="#1a1a1a" stroke-width="0.12" class="v">-0.06</text>
<text x="503.25" y="388.97" font-size="9.7" text-anchor="middle" fill="#1a1a1a" stroke="#1a1a1a" stroke-width="0.12" class="v">-0.02</text>
<text x="327.45" y="420.22" font-size="9.7" text-anchor="middle" fill="#1a1a1a" stroke="#1a1a1a" stroke-width="0.12" class="v">-0.09<tspan font-size="8" font-weight="bold" dy="-2.0">*</tspan></text>
<text x="356.75" y="420.22" font-size="9.7" text-anchor="middle" fill="#1a1a1a" stroke="#1a1a1a" stroke-width="0.12" class="v">0.13</text>
<text x="386.05" y="420.22" font-size="9.7" text-anchor="middle" fill="#1a1a1a" stroke="#1a1a1a" stroke-width="0.12" class="v">-0.03</text>
<text x="415.35" y="420.22" font-size="9.7" text-anchor="middle" fill="#fff" stroke="#fff" stroke-width="0.12" class="v">-0.32<tspan font-size="8" font-weight="bold" dy="-2.0">**</tspan></text>
<text x="444.65" y="420.22" font-size="9.7" text-anchor="middle" fill="#1a1a1a" stroke="#1a1a1a" stroke-width="0.12" class="v">-0.27</text>
<text x="473.95" y="420.22" font-size="9.7" text-anchor="middle" fill="#1a1a1a" stroke="#1a1a1a" stroke-width="0.12" class="v">-0.01</text>
<text x="503.25" y="420.22" font-size="9.7" text-anchor="middle" fill="#1a1a1a" stroke="#1a1a1a" stroke-width="0.12" class="v">-0.07<tspan font-size="8" font-weight="bold" dy="-2.0">*</tspan></text>
<text x="327.45" y="451.47" font-size="9.7" text-anchor="middle" fill="#1a1a1a" stroke="#1a1a1a" stroke-width="0.12" class="v">0.03</text>
<text x="356.75" y="451.47" font-size="9.7" text-anchor="middle" fill="#1a1a1a" stroke="#1a1a1a" stroke-width="0.12" class="v">0.02</text>
<text x="386.05" y="451.47" font-size="9.7" text-anchor="middle" fill="#1a1a1a" stroke="#1a1a1a" stroke-width="0.12" class="v">-0.03</text>
<text x="415.35" y="451.47" font-size="9.7" text-anchor="middle" fill="#1a1a1a" stroke="#1a1a1a" stroke-width="0.12" class="v">0.12</text>
<text x="444.65" y="451.47" font-size="9.7" text-anchor="middle" fill="#1a1a1a" stroke="#1a1a1a" stroke-width="0.12" class="v">-0.15</text>
<text x="473.95" y="451.47" font-size="9.7" text-anchor="middle" fill="#1a1a1a" stroke="#1a1a1a" stroke-width="0.12" class="v">-0.1</text>
<text x="503.25" y="451.47" font-size="9.7" text-anchor="middle" fill="#1a1a1a" stroke="#1a1a1a" stroke-width="0.12" class="v">-0.01</text>
<line x1="312.80" y1="275.2" x2="312.80" y2="462.7" stroke="#5a5a5a" stroke-width="1"/>
<line x1="342.10" y1="275.2" x2="342.10" y2="462.7" stroke="#5a5a5a" stroke-width="1"/>
<line x1="371.40" y1="275.2" x2="371.40" y2="462.7" stroke="#5a5a5a" stroke-width="1"/>
<line x1="400.70" y1="275.2" x2="400.70" y2="462.7" stroke="#5a5a5a" stroke-width="1"/>
<line x1="430.00" y1="275.2" x2="430.00" y2="462.7" stroke="#5a5a5a" stroke-width="1"/>
<line x1="459.30" y1="275.2" x2="459.30" y2="462.7" stroke="#5a5a5a" stroke-width="1"/>
<line x1="488.60" y1="275.2" x2="488.60" y2="462.7" stroke="#5a5a5a" stroke-width="1"/>
<line x1="517.90" y1="275.2" x2="517.90" y2="462.7" stroke="#5a5a5a" stroke-width="1"/>
<line x1="312.3" y1="275.20" x2="518.4" y2="275.20" stroke="#5a5a5a" stroke-width="1"/>
<line x1="312.3" y1="306.45" x2="518.4" y2="306.45" stroke="#5a5a5a" stroke-width="1"/>
<line x1="312.3" y1="337.70" x2="518.4" y2="337.70" stroke="#5a5a5a" stroke-width="1"/>
<line x1="312.3" y1="368.95" x2="518.4" y2="368.95" stroke="#5a5a5a" stroke-width="1"/>
<line x1="312.3" y1="400.20" x2="518.4" y2="400.20" stroke="#5a5a5a" stroke-width="1"/>
<line x1="312.3" y1="431.45" x2="518.4" y2="431.45" stroke="#5a5a5a" stroke-width="1"/>
<line x1="312.3" y1="462.70" x2="518.4" y2="462.70" stroke="#5a5a5a" stroke-width="1"/>
<text stroke="#111" stroke-width="0.12" x="310.3" y="295.12" font-size="9.6" text-anchor="end">miR-30e</text>
<text stroke="#111" stroke-width="0.12" x="310.3" y="326.38" font-size="9.6" text-anchor="end">miR-30d</text>
<text stroke="#111" stroke-width="0.12" x="310.3" y="357.62" font-size="9.6" text-anchor="end">miR-30c-2</text>
<text stroke="#111" stroke-width="0.12" x="310.3" y="388.88" font-size="9.6" text-anchor="end">miR-30c-1</text>
<text stroke="#111" stroke-width="0.12" x="310.3" y="420.12" font-size="9.6" text-anchor="end">miR-30b</text>
<text stroke="#111" stroke-width="0.12" x="310.3" y="451.38" font-size="9.6" text-anchor="end">miR-30a</text>
<text x="327.45" y="473.0" font-size="9.7" text-anchor="middle" stroke="#111" stroke-width="0.15" class="v">BRCA</text>
<text x="356.75" y="473.0" font-size="9.7" text-anchor="middle" stroke="#111" stroke-width="0.15" class="v">COAD</text>
<text x="386.05" y="473.0" font-size="9.7" text-anchor="middle" stroke="#111" stroke-width="0.15" class="v">GBM</text>
<text x="415.35" y="473.0" font-size="9.7" text-anchor="middle" stroke="#111" stroke-width="0.15" class="v">RCC</text>
<text x="444.65" y="473.0" font-size="9.7" text-anchor="middle" stroke="#111" stroke-width="0.15" class="v">LUAD</text>
<text x="473.95" y="473.0" font-size="9.7" text-anchor="middle" stroke="#111" stroke-width="0.15" class="v">READ</text>
<text x="503.25" y="473.0" font-size="9.7" text-anchor="middle" stroke="#111" stroke-width="0.15" class="v">OV</text>
</svg>
</body></html>
